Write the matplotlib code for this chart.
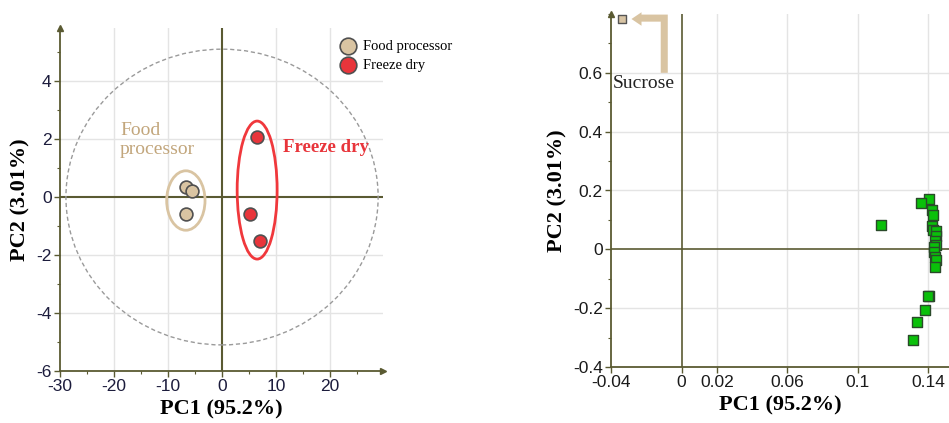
import matplotlib
matplotlib.use("Agg")
import matplotlib.pyplot as plt
from matplotlib.patches import Ellipse, Polygon
from matplotlib.ticker import MultipleLocator

plt.rcParams["axes.unicode_minus"] = False

# ---------------- data ----------------
groups = ["Food processor", "Freeze dry"]
fp_pc1 = [-6.7, -5.6, -6.7]
fp_pc2 = [0.34, 0.20, -0.57]
fd_pc1 = [6.5, 5.2, 7.1]
fd_pc2 = [2.07, -0.60, -1.52]

sucrose_pc1 = [-0.034]
sucrose_pc2 = [0.783]
var_pc1 = [0.1402, 0.1356, 0.1422, 0.1428, 0.1129, 0.1421, 0.1424, 0.1441, 0.1443,
           0.1438, 0.1443, 0.1432, 0.1434, 0.1436, 0.1445, 0.1439, 0.1405, 0.1396,
           0.1381, 0.1334, 0.1313]
var_pc2 = [0.172, 0.157, 0.134, 0.116, 0.083, 0.081, 0.066, 0.064, 0.047,
           0.030, 0.016, 0.007, -0.008, -0.025, -0.036, -0.059, -0.160, -0.160,
           -0.207, -0.247, -0.307]

left_xticks = [-30, -20, -10, 0, 10, 20]
left_yticks = [-6, -4, -2, 0, 2, 4]
right_xticks = [-0.04, 0, 0.02, 0.06, 0.1, 0.14]
right_xticklabels = ["-0.04", "0", "0.02", "0.06", "0.1", "0.14"]
right_yticks = [-0.4, -0.2, 0, 0.2, 0.4, 0.6]
right_yticklabels = ["-0.4", "-0.2", "0", "0.2", "0.4", "0.6"]
xlabel = "PC1 (95.2%)"
ylabel = "PC2 (3.01%)"

# ---------------- style ----------------
W, H = 949, 423
fig = plt.figure(figsize=(W / 100, H / 100), dpi=100)
axcol = "#5a5a32"
gridcol = "#e4e4e4"
tan = "#d9c4a2"
tan_txt = "#c2a67c"
red = "#e8353b"
serif = "Liberation Serif"
sans = "Liberation Sans"


def style_axes(ax, tickcol):
    for s in ["top", "right"]:
        ax.spines[s].set_visible(False)
    for s in ["left", "bottom"]:
        ax.spines[s].set_color(axcol)
        ax.spines[s].set_linewidth(1.3)
    ax.tick_params(which="both", colors=axcol, direction="out")
    ax.tick_params(which="major", length=4, width=1, labelsize=12.5,
                   labelcolor=tickcol, pad=2)
    ax.tick_params(which="minor", length=2.5, width=0.8)
    for lab in ax.get_xticklabels() + ax.get_yticklabels():
        lab.set_fontfamily(sans)
    ax.set_xlabel(xlabel, fontfamily=serif, fontweight="bold", fontsize=16, labelpad=4)
    ax.set_ylabel(ylabel, fontfamily=serif, fontweight="bold", fontsize=16, labelpad=4)
    ax.plot([0], [1.0], marker="^", color=axcol, markersize=5,
            transform=ax.transAxes, clip_on=False)


# ---------------- left panel ----------------
axL = fig.add_axes([60 / W, 1 - 371 / H, 323 / W, 343 / H])
axL.set_xlim(-30, 29.8)
axL.set_ylim(-6, 5.83)
axL.set_xticks(left_xticks)
axL.set_yticks(left_yticks)
axL.xaxis.set_minor_locator(MultipleLocator(5))
axL.yaxis.set_minor_locator(MultipleLocator(1))
for v in [-20, -10, 10, 20]:
    axL.axvline(v, color=gridcol, lw=1, zorder=0)
for v in [-4, -2, 2, 4]:
    axL.axhline(v, color=gridcol, lw=1, zorder=0)
axL.axvline(0, color=axcol, lw=1.5, zorder=1)
axL.axhline(0, color=axcol, lw=1.5, zorder=1)
axL.add_patch(Ellipse((0, 0), 57.8, 10.2, fill=False, ec="#9a9a9a", lw=1,
                      ls=(0, (3, 2)), zorder=1))
axL.add_patch(Ellipse((-6.7, -0.12), 7.1, 2.05, fill=False, ec=tan, lw=2, zorder=2))
axL.add_patch(Ellipse((6.5, 0.24), 7.4, 4.76, fill=False, ec="#f0383c", lw=2, zorder=2))
axL.scatter(fp_pc1, fp_pc2, s=85, c=tan, edgecolors="#505050", linewidths=1.2,
            zorder=3, label=groups[0])
axL.scatter(fd_pc1, fd_pc2, s=85, c=red, edgecolors="#505050", linewidths=1.2,
            zorder=3, label=groups[1])
axL.text(-18.9, 1.35, "Food\nprocessor", color=tan_txt, fontfamily=serif,
         fontsize=14, linespacing=1.15, va="bottom", ha="left")
axL.text(11.2, 1.7, "Freeze dry", color=red, fontfamily=serif, fontweight="bold",
         fontsize=13.5, va="center", ha="left")
style_axes(axL, "#1c1c3c")
axL.plot([1.0], [0], marker=">", color=axcol, markersize=5,
         transform=axL.transAxes, clip_on=False)
leg = axL.legend(loc="upper left", bbox_to_anchor=(333 / W, 1 - 40 / H),
                 bbox_transform=fig.transFigure, frameon=False,
                 prop={"family": serif, "size": 10.5}, handletextpad=0.05,
                 labelspacing=0.35, markerscale=1.3, borderaxespad=0,
                 borderpad=0)

# ---------------- right panel ----------------
axR = fig.add_axes([611 / W, 1 - 367 / H, 338 / W, 353 / H])
axR.set_xlim(-0.04, 0.1517)
axR.set_ylim(-0.4, 0.80)
axR.set_xticks(right_xticks)
axR.set_xticklabels(right_xticklabels)
axR.set_yticks(right_yticks)
axR.set_yticklabels(right_yticklabels)
axR.yaxis.set_minor_locator(MultipleLocator(0.1))
for v in [0.02, 0.06, 0.1, 0.14]:
    axR.axvline(v, color=gridcol, lw=1, zorder=0)
for v in [-0.2, 0.2, 0.4, 0.6]:
    axR.axhline(v, color=gridcol, lw=1, zorder=0)
axR.axvline(0, color=axcol, lw=1.2, zorder=1)
axR.axhline(0, color=axcol, lw=1.2, zorder=1)
axR.scatter(var_pc1, var_pc2, s=60, marker="s", c="#0ac00a", edgecolors="#2a4a2a",
            linewidths=1.0, zorder=3)
axR.scatter(sucrose_pc1, sucrose_pc2, s=32, marker="s", c="#d8c4a4",
            edgecolors="#555555", linewidths=1.0, zorder=3, clip_on=False)
# L-shaped arrow pointing at sucrose
sy = sucrose_pc2[0]
arrow = Polygon([(-0.0078, 0.600), (-0.0078, 0.798), (-0.0227, 0.798),
                 (-0.0227, 0.806), (-0.0284, sy), (-0.0227, 0.760),
                 (-0.0227, 0.774), (-0.0118, 0.774), (-0.0118, 0.600)],
                closed=True, fc=tan, ec="none", zorder=2, clip_on=False)
axR.add_patch(arrow)
axR.text(-0.039, 0.565, "Sucrose", fontfamily=serif, fontsize=14, color="#222222",
         va="center", ha="left")
style_axes(axR, "#1a1a1a")

fig.savefig("out.png", dpi=100)
